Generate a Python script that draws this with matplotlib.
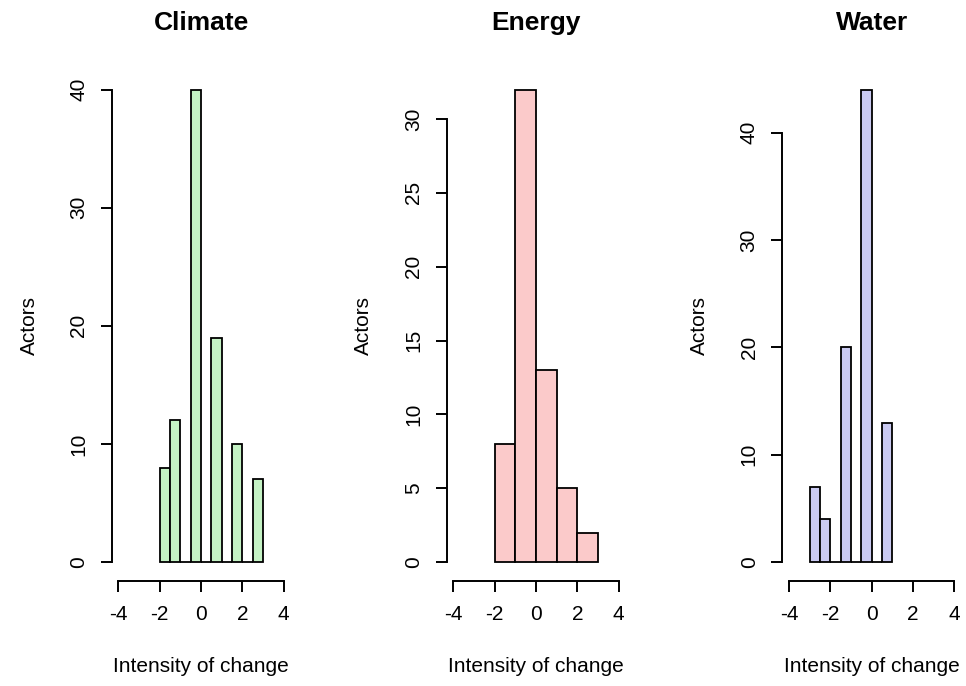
import matplotlib
matplotlib.use('Agg')
import matplotlib.pyplot as plt
import numpy as np

plt.rcParams['font.family'] = ['Liberation Sans', 'DejaVu Sans']

titles = ['Climate', 'Energy', 'Water']

climate_edges = [-2, -1.5, -1, -0.5, 0, 0.5, 1, 1.5, 2, 2.5, 3]
climate_counts = [8, 12, 0, 40, 0, 19, 0, 10, 0, 7]

energy_edges = [-2, -1, 0, 1, 2, 3]
energy_counts = [8, 32, 13, 5, 2]

water_edges = [-3, -2.5, -2, -1.5, -1, -0.5, 0, 0.5, 1]
water_counts = [7, 4, 0, 20, 0, 44, 0, 13]

y_ticks = [[0, 10, 20, 30, 40], [0, 5, 10, 15, 20, 25, 30], [0, 10, 20, 30, 40]]
x_ticks = [-4, -2, 0, 2, 4]

colors = ['#c4f2c4', '#fbcaca', '#cacaf2']

edges_all = [climate_edges, energy_edges, water_edges]
counts_all = [climate_counts, energy_counts, water_counts]
lefts = [0.1156, 0.4623, 0.8098]

fig = plt.figure(figsize=(9.66, 6.86), dpi=100)

for i in range(3):
    ax = fig.add_axes([lefts[i], 0.153, 0.185, 0.744])
    edges = np.array(edges_all[i])
    counts = np.array(counts_all[i])
    ax.hist(edges[:-1], bins=edges, weights=counts, color=colors[i],
            edgecolor='black', linewidth=1.3)
    ymax = max(counts)
    ax.set_xlim(-4.32, 4.32)
    ax.set_ylim(-0.04 * ymax, 1.04 * ymax)

    for s in ['top', 'right']:
        ax.spines[s].set_visible(False)
    ax.spines['left'].set_bounds(y_ticks[i][0], y_ticks[i][-1])
    ax.spines['bottom'].set_bounds(-4, 4)
    ax.spines['left'].set_linewidth(1.4)
    ax.spines['bottom'].set_linewidth(1.4)

    ax.set_xticks(x_ticks)
    ax.set_xticklabels([str(t) for t in x_ticks])
    ax.set_yticks(y_ticks[i])
    ax.set_yticklabels([str(t) for t in y_ticks[i]], rotation=90, va='center')
    ax.tick_params(length=8, width=1.4, labelsize=15, pad=9, colors='black')

    ax.set_title(titles[i], fontsize=19, fontweight='bold', pad=29)
    ax.set_xlabel('Intensity of change', fontsize=15, labelpad=24)
    ax.set_ylabel('Actors', fontsize=15, labelpad=22)

fig.savefig('out.png', dpi=100)
